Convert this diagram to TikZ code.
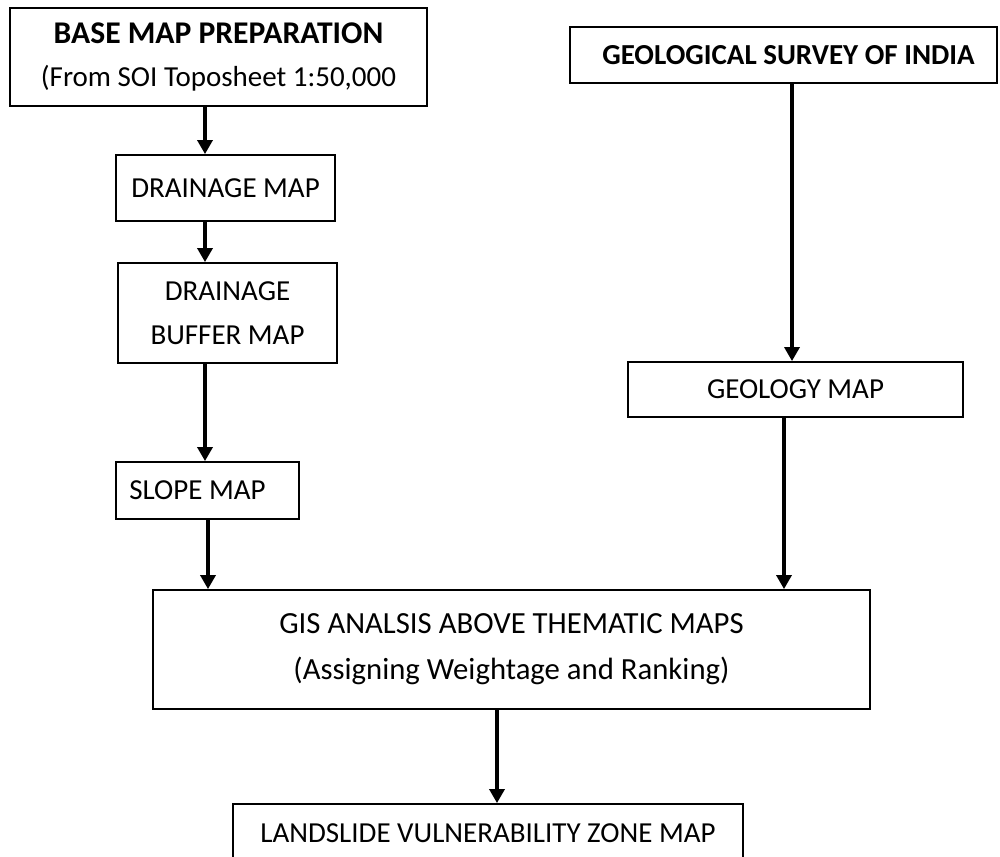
\documentclass[tikz,border=0pt]{standalone}
\usepackage{fontspec}
\setmainfont{Carlito}
\usetikzlibrary{arrows.meta, positioning}

\begin{document}
\begin{tikzpicture}[x=0.02cm, y=-0.02cm,
  mapbox/.style={draw, line width=1pt, align=center, inner sep=0pt, font=\fontsize{16.5}{25}\selectfont},
  flow/.style={line width=2.2pt, -{Triangle[width=8.5pt,length=8pt]}}]
\useasboundingbox (0,0) rectangle (1000,857);
\clip (0,0) rectangle (1000,857);
% left column
\node[mapbox, minimum width=8.34cm, minimum height=1.96cm] (base) at (218.5,57) {{\fontsize{18}{25}\selectfont\textbf{BASE MAP PREPARATION}}\\(From SOI Toposheet 1:50,000};
\node[mapbox, minimum width=4.38cm, minimum height=1.32cm] (drainage) at (225.5,188) {DRAINAGE MAP};
\node[mapbox, minimum width=4.38cm, minimum height=2cm] (buffer) at (227.5,313) {DRAINAGE\\BUFFER MAP};
\node[mapbox, minimum width=3.66cm, minimum height=1.14cm] (slope) at (207.5,490.5) {SLOPE MAP\hspace{0.4cm}};
% right column
\node[mapbox, minimum width=8.54cm, minimum height=1.12cm] (gsi) at (783.5,55) {\hspace{0.2cm}\textbf{GEOLOGICAL SURVEY OF INDIA}};
\node[mapbox, minimum width=6.7cm, minimum height=1.1cm] (geology) at (795.5,389.5) {GEOLOGY MAP};
% analysis and result
\node[mapbox, minimum width=14.34cm, minimum height=2.38cm, font=\fontsize{17.5}{26}\selectfont] (gis) at (511.5,649.5) {GIS ANALSIS ABOVE THEMATIC MAPS\\(Assigning Weightage and Ranking)};
\node[mapbox, minimum width=10.2cm, minimum height=1.16cm] (land) at (488,833) {LANDSLIDE VULNERABILITY ZONE MAP};

\coordinate (colA) at (205,0);
\coordinate (colB) at (208,0);
\coordinate (colC) at (792,0);
\coordinate (colD) at (784,0);
\coordinate (colE) at (497,0);

\draw[flow] (base.south -| colA) -- (drainage.north -| colA);
\draw[flow] (drainage.south -| colA) -- (buffer.north -| colA);
\draw[flow] (buffer.south -| colA) -- (slope.north -| colA);
\draw[flow] (slope.south -| colB) -- (gis.north -| colB);
\draw[flow] (gsi.south -| colC) -- (geology.north -| colC);
\draw[flow] (geology.south -| colD) -- (gis.north -| colD);
\draw[flow] (gis.south -| colE) -- (land.north -| colE);
\end{tikzpicture}
\end{document}
